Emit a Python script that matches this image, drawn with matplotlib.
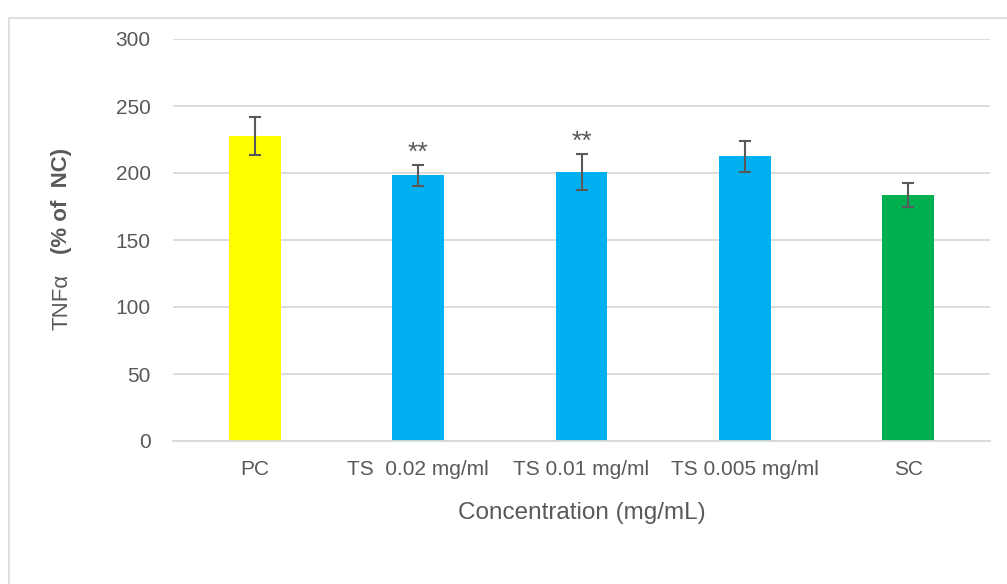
import numpy as np
import matplotlib.pyplot as plt
from matplotlib.patches import Rectangle

# Données
categories = ['PC', 'TS  0.02 mg/ml', 'TS 0.01 mg/ml', 'TS 0.005 mg/ml', 'SC']
valeurs = [227.6, 198.3, 200.5, 212.5, 183.4]
erreurs = [14.0, 8.0, 13.5, 11.7, 9.0]
signif = ['', '**', '**', '', '']
couleurs = ['#FFFF00', '#00B0F0', '#00B0F0', '#00B0F0', '#00B050']

GRIS_TEXTE = '#595959'
GRIS_GRILLE = '#D9D9D9'

plt.rcParams['font.family'] = ['Liberation Sans', 'DejaVu Sans']

fig = plt.figure(figsize=(10.07, 5.84), dpi=100)
ax = fig.add_axes([173 / 1007, 1 - 441 / 584, 817 / 1007, 402 / 584])

# Cadre extérieur (zone du graphique)
fig.patches.append(Rectangle((9 / 1007, -0.1), 1.2, 1.1 - 18 / 584, transform=fig.transFigure,
                             fill=False, edgecolor=GRIS_GRILLE, linewidth=1.2))

x = np.arange(len(categories))
ax.bar(x, valeurs, width=0.318, color=couleurs, zorder=2)
ax.errorbar(x, valeurs, yerr=erreurs, fmt='none', ecolor=GRIS_TEXTE,
            elinewidth=1.5, capsize=4.5, capthick=1.5, zorder=3)

for xi, v, e, s in zip(x, valeurs, erreurs, signif):
    if s:
        ax.annotate(s, (xi, v + e), xytext=(0, 0), textcoords='offset points',
                    ha='center', va='bottom', fontsize=19, color=GRIS_TEXTE)

ax.set_xlim(-0.5, len(categories) - 0.5)
ax.set_ylim(0, 300)
ax.set_yticks(np.arange(0, 301, 50))
ax.set_xticks(x)
ax.set_xticklabels(categories)

ax.yaxis.grid(True, color=GRIS_GRILLE, linewidth=1.3, zorder=0)
ax.set_axisbelow(True)
for cote in ['top', 'right', 'left']:
    ax.spines[cote].set_visible(False)
ax.spines['bottom'].set_color(GRIS_GRILLE)
ax.spines['bottom'].set_linewidth(1.3)
ax.tick_params(axis='both', length=0, labelsize=15, labelcolor=GRIS_TEXTE)
ax.tick_params(axis='y', pad=16)
ax.tick_params(axis='x', pad=14)

ax.set_xlabel('Concentration (mg/mL)', fontsize=17.5, color=GRIS_TEXTE, labelpad=16)

# Titre de l'axe Y en deux morceaux (TNFα normal, le reste en gras)
fig.text(62 / 1007, 1 - 302 / 584, 'TNFα', rotation=90, ha='center', va='center',
         fontsize=16, color=GRIS_TEXTE)
fig.text(62 / 1007, 1 - 201 / 584, '(% of  NC)', rotation=90, ha='center', va='center',
         fontsize=16, fontweight='bold', color=GRIS_TEXTE)

fig.savefig('out.png', dpi=100)
